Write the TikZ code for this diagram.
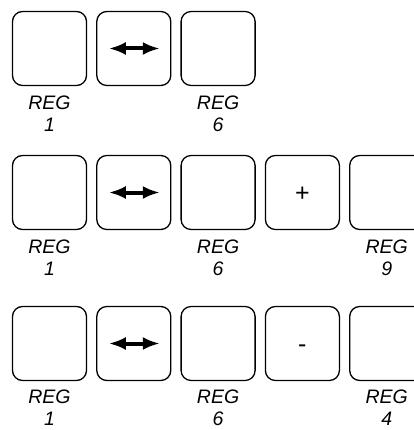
\documentclass[tikz,border=0pt]{standalone}
\usepackage{fontspec}
\setmainfont{Liberation Sans}
\newfontfamily\regsans[Scale=1.95]{Liberation Sans}
\newfontfamily\opsans[Scale=2.5]{Liberation Sans}
\usetikzlibrary{positioning,arrows.meta}
\newcommand\regfont{\regsans\itshape\baselineskip=22pt}

\begin{document}
\begin{tikzpicture}[x=1pt, y=1pt, >={Latex[length=17pt,width=13pt]},
    key/.style={draw, line width=1.3pt, rounded corners=10pt,
        minimum width=74pt, minimum height=74pt, inner sep=0pt,
        text height=17pt, text depth=0pt, font=\opsans},
    reglabel/.style={align=center, inner sep=0pt, font=\regfont},
    swaparrow/.style={<->, line width=4pt}]
    \useasboundingbox (0, 0) rectangle (413, -430);

    % 1. Hàng thứ nhất: REG 1 <-> REG 6
    \node[key] (a1) at (49.5, -48.5) {};
    \node[key, right=9pt of a1] (a2) {};
    \node[key, right=9pt of a2] (a3) {};
    \draw[swaparrow] ([xshift=-25pt]a2.center) -- ([xshift=26pt]a2.center);
    \node[reglabel, below=10pt of a1] (la1) {REG\\1};
    \node[reglabel, below=10pt of a3] (la3) {REG\\6};

    % 2. Hàng thứ hai: REG 1 <-> REG 6 + REG 9
    \node[key] (b1) at (49.5, -192.5) {};
    \node[key, right=9pt of b1] (b2) {};
    \node[key, right=9pt of b2] (b3) {};
    \node[key, right=9pt of b3] (b4) {+};
    \node[key, right=9pt of b4] (b5) {};
    \draw[swaparrow] ([xshift=-25pt]b2.center) -- ([xshift=26pt]b2.center);
    \node[reglabel, below=10pt of b1] (lb1) {REG\\1};
    \node[reglabel, below=10pt of b3] (lb3) {REG\\6};
    \node[reglabel, below=10pt of b5] (lb5) {REG\\9};

    % 3. Hàng thứ ba: REG 1 <-> REG 6 - REG 4
    \node[key] (c1) at (49.5, -343.5) {};
    \node[key, right=9pt of c1] (c2) {};
    \node[key, right=9pt of c2] (c3) {};
    \node[key, right=9pt of c3] (c4) {-};
    \node[key, right=9pt of c4] (c5) {};
    \draw[swaparrow] ([xshift=-25pt]c2.center) -- ([xshift=26pt]c2.center);
    \node[reglabel, below=9pt of c1] (lc1) {REG\\1};
    \node[reglabel, below=9pt of c3] (lc3) {REG\\6};
    \node[reglabel, below=9pt of c5] (lc5) {REG\\4};
\end{tikzpicture}
\end{document}
